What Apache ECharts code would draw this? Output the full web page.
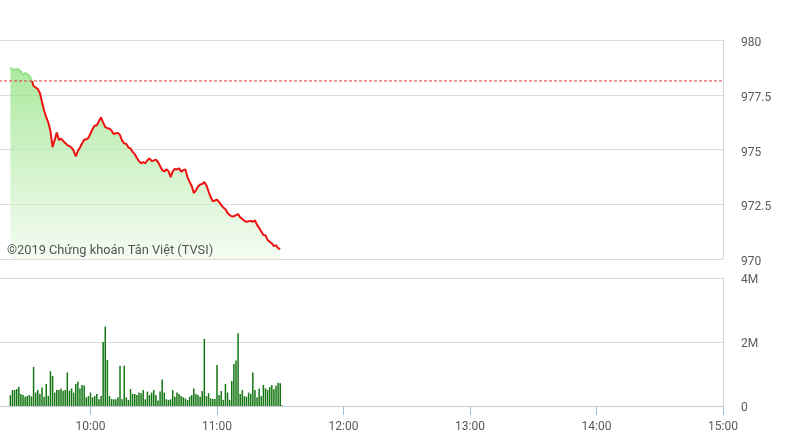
<!DOCTYPE html>
<html>
<head>
<meta charset="utf-8">
<script src="https://cdn.jsdelivr.net/npm/echarts@6/dist/echarts.min.js"></script>
<style>
html,body{margin:0;padding:0;background:#fff;}
#chart{width:792px;height:445px;}
</style>
</head>
<body>
<div id="chart"></div>
<script>
// ---- data ----
const startMinute = 9 * 60 + 22;      // first point: 09:22, one value per minute
const referencePrice = 978.13;        // previous close (dashed line)
const priceValues = [
  978.74, 978.63, 978.65, 978.66, 978.66, 978.54, 978.42, 978.49, 978.45, 978.36,
  978.20, 977.90, 977.83, 977.76, 977.58, 977.17, 976.78, 976.48, 976.23, 975.84,
  975.11, 975.43, 975.78, 975.43, 975.50, 975.39, 975.30, 975.20, 975.16, 975.09,
  974.95, 974.68, 974.93, 975.09, 975.27, 975.46, 975.46, 975.53, 975.73, 975.94,
  976.10, 976.10, 976.30, 976.47, 976.23, 976.03, 975.97, 975.96, 975.86, 975.71,
  975.74, 975.76, 975.66, 975.41, 975.28, 975.25, 975.09, 975.05, 974.89, 974.79,
  974.61, 974.47, 974.37, 974.43, 974.37, 974.51, 974.59, 974.47, 974.50, 974.54,
  974.43, 974.25, 974.06, 974.00, 974.09, 974.02, 973.74, 974.00, 974.11, 974.09,
  974.14, 973.99, 974.06, 974.09, 973.74, 973.52, 973.33, 973.01, 973.13, 973.31,
  973.40, 973.42, 973.52, 973.36, 973.08, 972.83, 972.63, 972.67, 972.71, 972.60,
  972.47, 972.35, 972.27, 972.10, 972.01, 971.94, 971.95, 972.00, 972.05, 971.90,
  971.83, 971.74, 971.70, 971.72, 971.74, 971.70, 971.76, 971.56, 971.42, 971.26,
  971.10, 971.08, 970.87, 970.79, 970.71, 970.59, 970.63, 970.49, 970.46
];
// volume in millions of shares, one bar per minute from 09:22
const volumeValues = [
  0.34, 0.5, 0.5, 0.53, 0.6, 0.375, 0.34, 0.29, 0.31, 0.34,
  0.3, 1.22, 0.42, 0.5, 0.375, 0.58, 0.29, 0.69, 0.31, 1.09,
  0.94, 0.42, 0.5, 0.5, 0.55, 0.48, 0.5, 1.05, 0.48, 0.55,
  0.42, 0.69, 0.76, 0.55, 0.66, 0.64, 0.27, 0.31, 0.42, 0.27,
  0.31, 0.375, 0.21, 0.31, 2.0, 2.48, 1.44, 0.31, 0.22, 0.21,
  0.21, 0.27, 1.26, 0.21, 1.26, 0.27, 0.19, 0.53, 0.375, 0.375,
  0.34, 0.42, 0.40, 0.5, 0.21, 0.45, 0.34, 0.42, 0.5, 0.34,
  0.17, 0.45, 0.83, 0.42, 0.21, 0.19, 0.21, 0.5, 0.29, 0.42,
  0.375, 0.31, 0.27, 0.24, 0.19, 0.29, 0.34, 0.55, 0.375, 0.34,
  0.29, 0.47, 2.1, 0.31, 0.40, 0.24, 0.22, 0.22, 1.28, 0.34,
  0.47, 0.19, 0.69, 0.42, 0.19, 0.78, 1.31, 1.42, 2.27, 0.375,
  0.5, 0.31, 0.29, 0.42, 0.375, 1.05, 0.5, 0.27, 0.55, 0.31,
  0.66, 0.55, 0.5, 0.59, 0.66, 0.52, 0.63, 0.73, 0.71, 0.02
];
const hourTicks = ['10:00', '11:00', '12:00', '13:00', '14:00', '15:00'];
const priceTicks = [970, 972.5, 975, 977.5, 980];
const volumeTicks = ['0', '2M', '4M'];
const watermark = '©2019 Chứng khoán Tân Việt (TVSI)';

// ---- build ----
const toMinute = s => { const p = s.split(':'); return +p[0] * 60 + +p[1]; };
const xMin = 540, xMax = toMinute(hourTicks[hourTicks.length - 1]);
const priceData = priceValues.map((v, i) => [startMinute + i, v]);
const volumeData = volumeValues.map((v, i) => [startMinute + i, v]);
const refData = [[xMin, referencePrice], [xMax, referencePrice]];
const fmtTime = m => {
  const h = Math.floor(m / 60), mm = m % 60;
  return (h < 10 ? '0' : '') + h + ':' + (mm < 10 ? '0' : '') + mm;
};
const labelStyle = { color: '#5a5a5a', fontSize: 12, fontFamily: 'Roboto' };
const gridLineColor = '#dcdcdc';
const lineGreen = '#94e484', lineRed = '#ee1111';

const chart = echarts.init(document.getElementById('chart'), null, { renderer: 'canvas' });
chart.setOption({
  animation: false,
  backgroundColor: '#fff',
  grid: [
    { left: -36, right: 69, top: 40, height: 219, containLabel: false, outerBoundsMode: 'none' },
    { left: -36, right: 69, top: 278, height: 128, containLabel: false, outerBoundsMode: 'none' }
  ],
  xAxis: [
    { gridIndex: 0, type: 'value', min: xMin, max: xMax, interval: 60,
      axisLine: { show: false }, axisTick: { show: false }, axisLabel: { show: false },
      splitLine: { show: false } },
    { gridIndex: 1, type: 'value', min: xMin, max: xMax, interval: 60,
      axisLine: { show: true, onZero: false, lineStyle: { color: '#c8ccd4' } },
      axisTick: { show: true, length: 9, lineStyle: { color: '#9dbcd6', width: 1 } },
      axisLabel: Object.assign({}, labelStyle, {
        margin: 15,
        formatter: v => { const t = fmtTime(v); return hourTicks.indexOf(t) >= 0 ? t : ''; }
      }),
      splitLine: { show: false } }
  ],
  yAxis: [
    { gridIndex: 0, type: 'value', position: 'right',
      min: priceTicks[0], max: priceTicks[priceTicks.length - 1], interval: 2.5,
      axisLine: { show: true, lineStyle: { color: '#d4d8de' } },
      axisTick: { show: false },
      axisLabel: Object.assign({}, labelStyle, { margin: 18, verticalAlign: 'top', lineHeight: 6 }),
      splitLine: { show: true, lineStyle: { color: gridLineColor } } },
    { gridIndex: 1, type: 'value', position: 'right', min: 0, max: 4, interval: 2,
      axisLine: { show: true, lineStyle: { color: '#d4d8de' } },
      axisTick: { show: false },
      axisLabel: Object.assign({}, labelStyle, { margin: 18, verticalAlign: 'top', lineHeight: 3,
        formatter: v => volumeTicks[Math.round(v / 2)] }),
      splitLine: { show: true, lineStyle: { color: gridLineColor } } }
  ],
  graphic: [{
    type: 'text', left: 7, top: 244, silent: true, z: 100,
    style: { text: watermark, fill: '#555', fontSize: 12.8, fontFamily: 'Roboto' }
  }],
  series: [
    { type: 'line', xAxisIndex: 0, yAxisIndex: 0, data: priceData,
      showSymbol: false, symbol: 'none',
      lineStyle: { width: 2, color: lineRed },
      areaStyle: {
        origin: 'start',
        color: new echarts.graphic.LinearGradient(0, 0, 0, 1, [
          { offset: 0, color: 'rgba(130,222,112,0.95)' },
          { offset: 1, color: 'rgba(238,250,234,0.9)' }
        ])
      },
      z: 3
    },
    { type: 'line', xAxisIndex: 0, yAxisIndex: 0, data: refData,
      showSymbol: false, symbol: 'none', silent: true,
      lineStyle: { width: 1, color: '#e5353c', type: [3, 2] }, z: 4 },
    { type: 'bar', xAxisIndex: 1, yAxisIndex: 1, data: volumeData,
      barWidth: 1.5, itemStyle: { color: '#137613' } }
  ]
});

// line above the reference price blends into the fill; below it is red
const yRef = chart.convertToPixel({ yAxisIndex: 0 }, referencePrice);
const H = chart.getHeight();
const k = yRef / H;
chart.setOption({
  series: [{
    lineStyle: {
      color: new echarts.graphic.LinearGradient(0, 0, 0, H, [
        { offset: 0, color: lineGreen }, { offset: k, color: lineGreen },
        { offset: k, color: lineRed }, { offset: 1, color: lineRed }
      ], true)
    }
  }]
});
</script>
</body>
</html>
